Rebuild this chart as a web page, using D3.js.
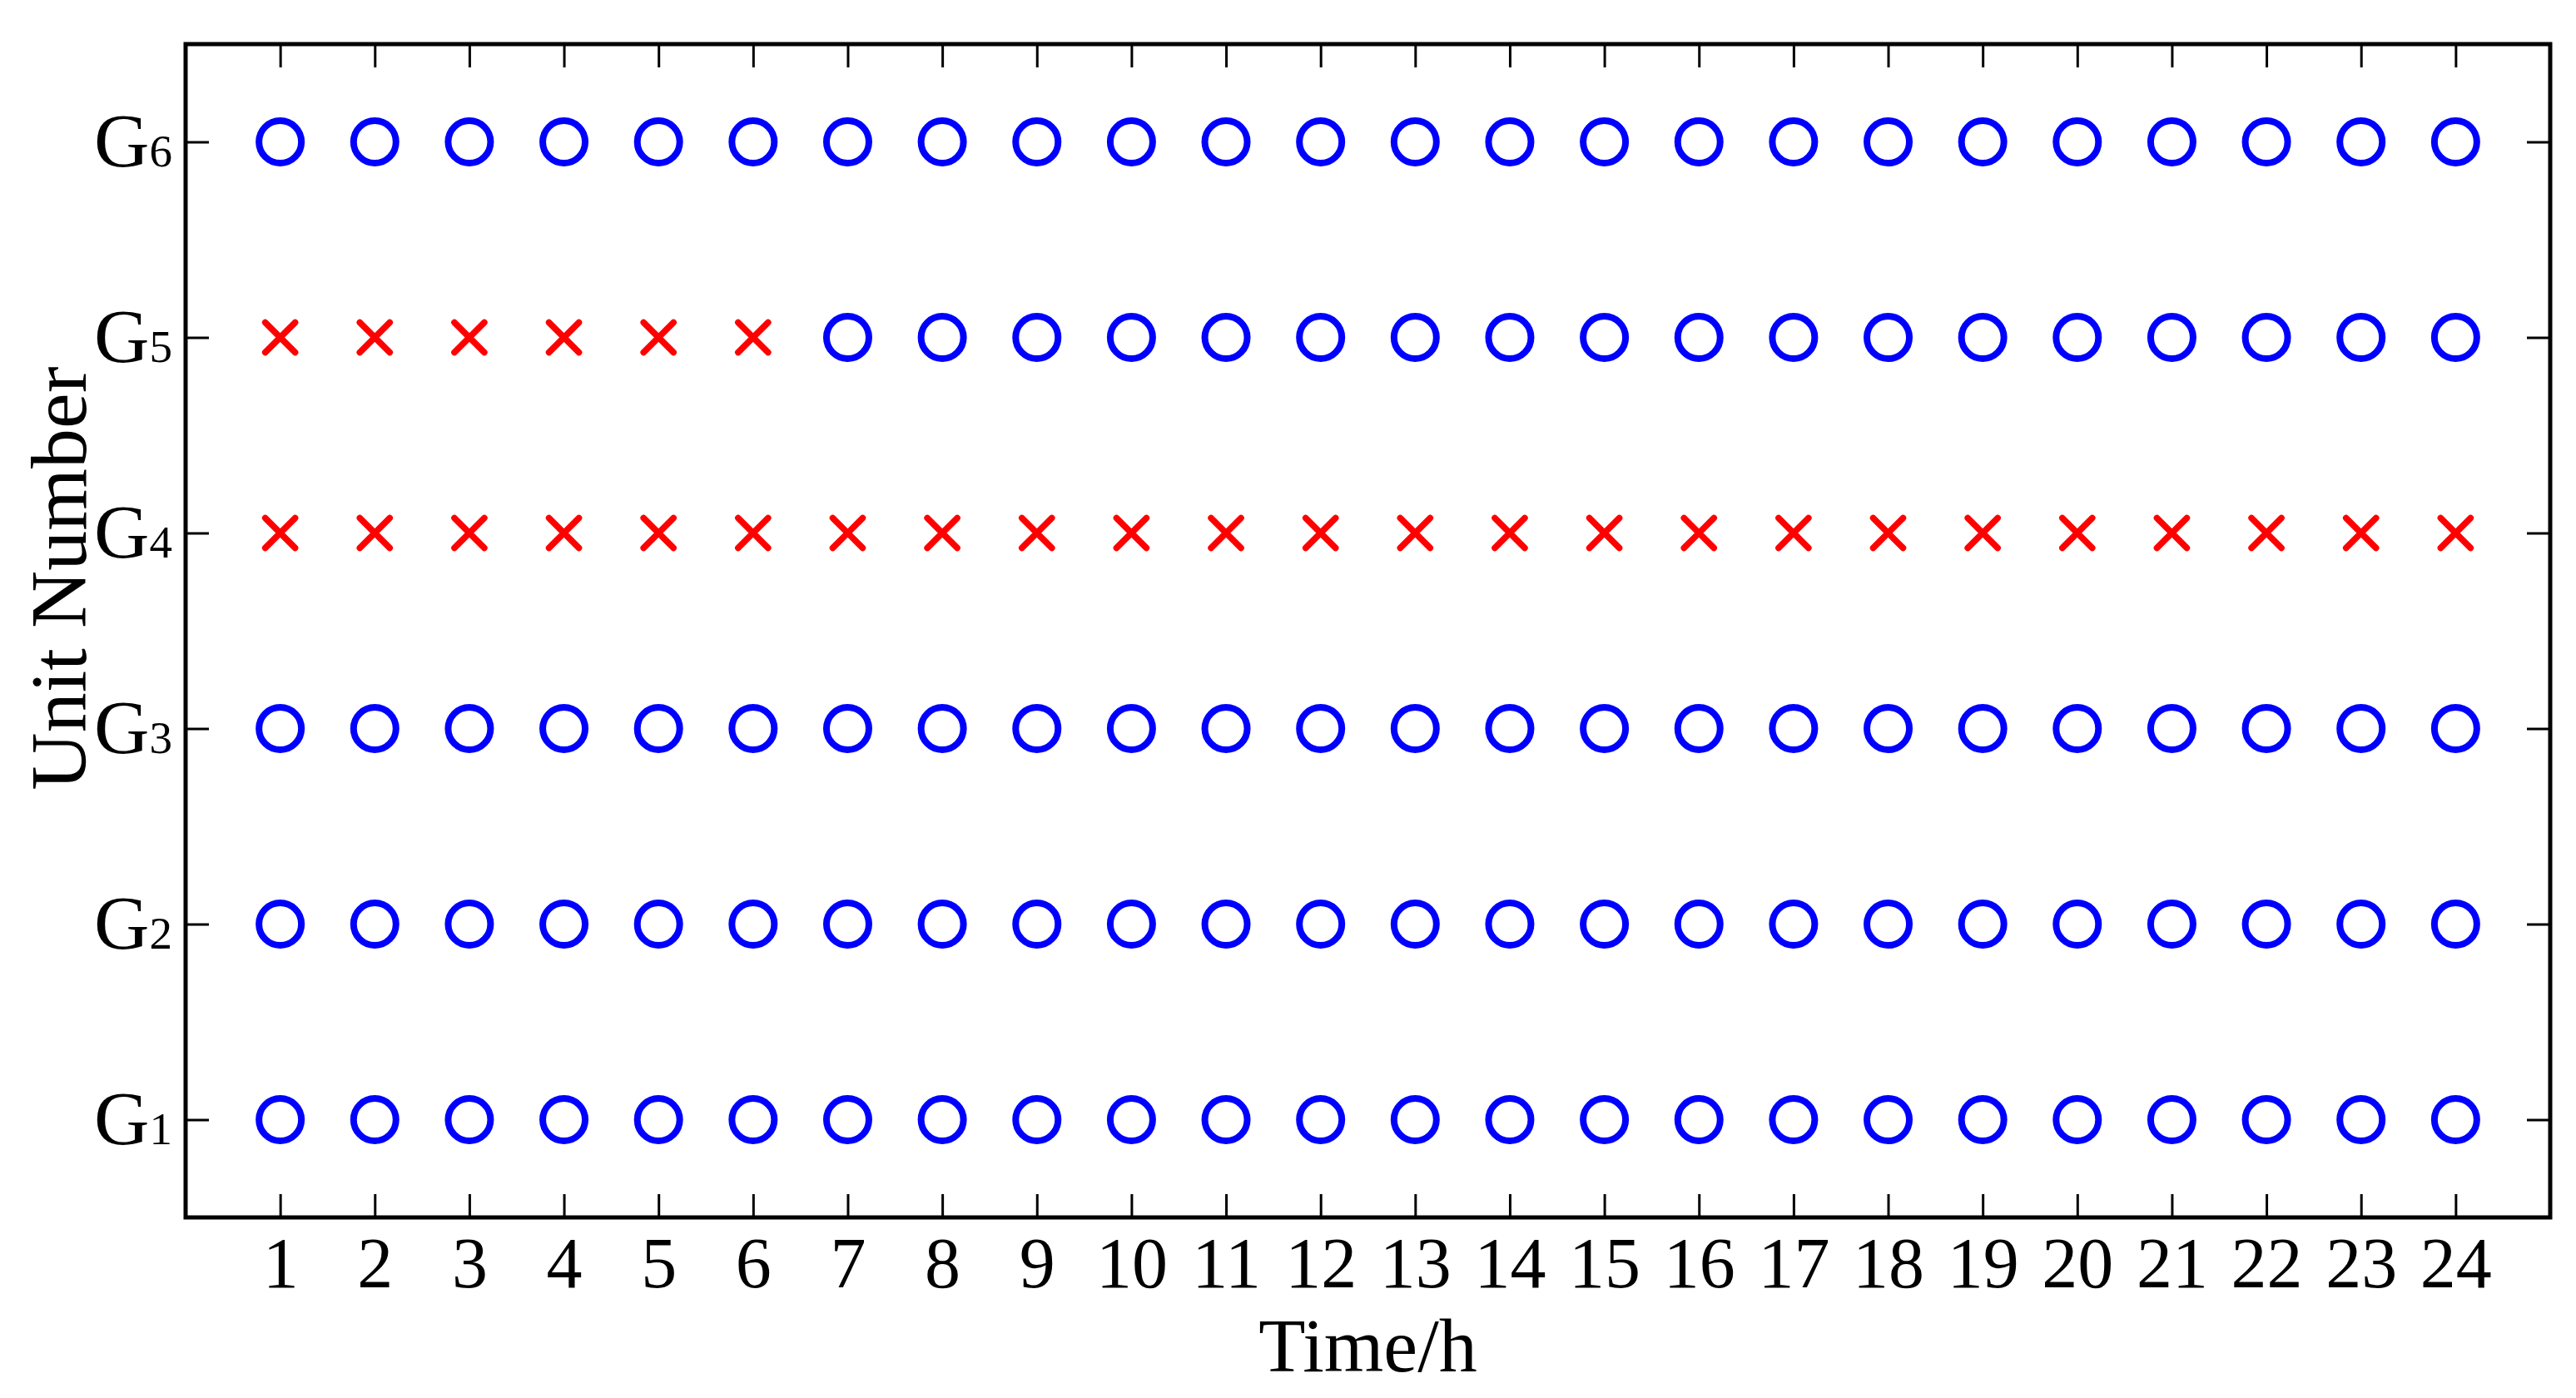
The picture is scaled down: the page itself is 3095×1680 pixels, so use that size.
<!DOCTYPE html>
<html>
<head>
<meta charset="utf-8">
<script src="https://cdn.jsdelivr.net/npm/d3@7"></script>
<style>
  html, body { margin: 0; padding: 0; background: #fff; }
  text { font-family: "Liberation Serif", "DejaVu Serif", serif; fill: #000; }
</style>
</head>
<body>
<div id="chart"></div>
<script>
// unit commitment: 1 = unit on (circle), 0 = unit off (cross)
const hours = [1, 2, 3, 4, 5, 6, 7, 8, 9, 10, 11, 12, 13, 14, 15, 16, 17, 18, 19, 20, 21, 22, 23, 24];
const units = ["1", "2", "3", "4", "5", "6"];
const statusG1 = [1, 1, 1, 1, 1, 1, 1, 1, 1, 1, 1, 1, 1, 1, 1, 1, 1, 1, 1, 1, 1, 1, 1, 1];
const statusG2 = [1, 1, 1, 1, 1, 1, 1, 1, 1, 1, 1, 1, 1, 1, 1, 1, 1, 1, 1, 1, 1, 1, 1, 1];
const statusG3 = [1, 1, 1, 1, 1, 1, 1, 1, 1, 1, 1, 1, 1, 1, 1, 1, 1, 1, 1, 1, 1, 1, 1, 1];
const statusG4 = [0, 0, 0, 0, 0, 0, 0, 0, 0, 0, 0, 0, 0, 0, 0, 0, 0, 0, 0, 0, 0, 0, 0, 0];
const statusG5 = [0, 0, 0, 0, 0, 0, 1, 1, 1, 1, 1, 1, 1, 1, 1, 1, 1, 1, 1, 1, 1, 1, 1, 1];
const statusG6 = [1, 1, 1, 1, 1, 1, 1, 1, 1, 1, 1, 1, 1, 1, 1, 1, 1, 1, 1, 1, 1, 1, 1, 1];
const statusRows = [statusG1, statusG2, statusG3, statusG4, statusG5, statusG6];

const W = 3095, H = 1680;
const margin = { left: 223, right: 31, top: 53, bottom: 217 };

const svg = d3.select("#chart").append("svg")
  .attr("width", W)
  .attr("height", H);

const x = d3.scaleLinear().domain([0, 25]).range([margin.left, W - margin.right]);
const y = d3.scaleLinear().domain([0.5, 6.5]).range([H - margin.bottom, margin.top]);

// flatten into points
const points = [];
statusRows.forEach((row, i) => {
  row.forEach((s, j) => points.push({ unit: i + 1, hour: hours[j], on: s === 1 }));
});

// axes (ticks point inward, mirrored on top/right)
const tickLen = 28;
const styleAxis = g => {
  g.select(".domain").remove();
  g.selectAll(".tick line").attr("stroke", "#000").attr("stroke-width", 3);
};

svg.append("g")
  .attr("transform", `translate(0,${y.range()[0]})`)
  .call(d3.axisBottom(x).tickValues(hours).tickSizeInner(-tickLen).tickSizeOuter(0).tickPadding(23))
  .call(styleAxis)
  .call(g => g.selectAll(".tick text").attr("font-size", 86).attr("font-family", "Liberation Serif"));

svg.append("g")
  .attr("transform", `translate(0,${y.range()[1]})`)
  .call(d3.axisTop(x).tickValues(hours).tickSizeInner(-tickLen).tickSizeOuter(0).tickFormat(""))
  .call(styleAxis);

svg.append("g")
  .attr("transform", `translate(${x.range()[0]},0)`)
  .call(d3.axisLeft(y).tickValues([1, 2, 3, 4, 5, 6]).tickSizeInner(-tickLen).tickSizeOuter(0).tickPadding(16)
    .tickFormat(d => units[d - 1]))
  .call(styleAxis)
  .call(g => g.selectAll(".tick text").each(function (d) {
    const t = d3.select(this).text(null)
      .attr("font-family", "Liberation Serif")
      .attr("font-size", 92)
      .attr("dy", "0.32em");
    t.append("tspan").text("G");
    t.append("tspan").attr("font-size", 55).text(units[d - 1]);
  }));

svg.append("g")
  .attr("transform", `translate(${x.range()[1]},0)`)
  .call(d3.axisRight(y).tickValues([1, 2, 3, 4, 5, 6]).tickSizeInner(-tickLen).tickSizeOuter(0).tickFormat(""))
  .call(styleAxis);

// frame
svg.append("rect")
  .attr("x", x.range()[0])
  .attr("y", y.range()[1])
  .attr("width", x.range()[1] - x.range()[0])
  .attr("height", y.range()[0] - y.range()[1])
  .attr("fill", "none")
  .attr("stroke", "#000")
  .attr("stroke-width", 5);

// on: blue circles
svg.append("g").selectAll("circle")
  .data(points.filter(d => d.on))
  .join("circle")
  .attr("cx", d => x(d.hour))
  .attr("cy", d => y(d.unit))
  .attr("r", 25.5)
  .attr("fill", "none")
  .attr("stroke", "#0000ff")
  .attr("stroke-width", 8);

// off: red crosses
const arm = 18;
svg.append("g").selectAll("path")
  .data(points.filter(d => !d.on))
  .join("path")
  .attr("d", d => {
    const cx = x(d.hour), cy = y(d.unit);
    return `M${cx - arm},${cy - arm}L${cx + arm},${cy + arm}M${cx - arm},${cy + arm}L${cx + arm},${cy - arm}`;
  })
  .attr("fill", "none")
  .attr("stroke", "#ff0000")
  .attr("stroke-width", 7.5)
  .attr("stroke-linecap", "round");

// axis titles
svg.append("text")
  .attr("x", (x.range()[0] + x.range()[1]) / 2)
  .attr("y", 1648)
  .attr("text-anchor", "middle")
  .attr("font-size", 92)
  .text("Time/h");

svg.append("text")
  .attr("transform", "translate(103,695) rotate(-90)")
  .attr("text-anchor", "middle")
  .attr("font-size", 96)
  .text("Unit Number");
</script>
</body>
</html>
